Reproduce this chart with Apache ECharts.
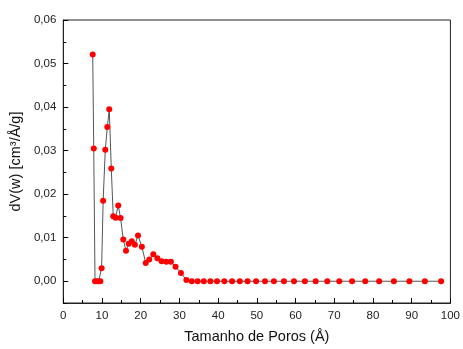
<!DOCTYPE html>
<html>
<head>
<meta charset="utf-8">
<script src="https://cdn.jsdelivr.net/npm/echarts@6/dist/echarts.min.js"></script>
<style>
  html, body { margin: 0; padding: 0; background: #fff; }
  #chart { width: 463px; height: 349px; }
</style>
</head>
<body>
<div id="chart"></div>
<script>
// tamanho de poros (Å)
var poreSize = [7.6, 7.87, 8.2, 8.6, 9.15, 9.57, 9.9, 10.3, 10.85, 11.37, 11.88, 12.4, 12.9, 13.5, 14.2, 14.8,
  15.5, 16.2, 16.9, 17.7, 18.5, 19.3, 20.3, 21.3, 22.2, 23.25, 24.3, 25.4, 26.6, 27.8, 29.0, 30.4, 31.8,
  33.2, 34.7, 36.3, 38.0, 39.7, 41.6, 43.6, 45.6, 47.6, 49.8, 52.1, 54.4, 57.0, 59.6, 62.4, 65.2, 68.2,
  71.3, 74.6, 78.0, 81.6, 85.4, 89.4, 93.4, 97.6];
// dV(w)
var dV = [0.0521, 0.0305, 0, 0, 0, 0, 0.0030, 0.0185, 0.0302, 0.0354, 0.0395, 0.0259, 0.0149, 0.0146, 0.0174, 0.0145,
  0.0096, 0.0070, 0.0086, 0.0092, 0.0084, 0.0105, 0.0079, 0.0042, 0.0050, 0.0062, 0.0053, 0.0046, 0.0045, 0.0045, 0.0033, 0.0019, 0.0003,
  0, 0, 0, 0, 0, 0, 0, 0, 0, 0, 0, 0, 0, 0, 0, 0, 0,
  0, 0, 0, 0, 0, 0, 0, 0];
var yMajor = [0, 0.01, 0.02, 0.03, 0.04, 0.05, 0.06];
var yMinor = [-0.005, 0.005, 0.015, 0.025, 0.035, 0.045, 0.055];

var points = poreSize.map(function (x, i) { return [x, dV[i]]; });
var font = 'Liberation Sans';

var chart = echarts.init(document.getElementById('chart'));
chart.setOption({
  animation: false,
  grid: { left: 63, right: 10, top: 20, bottom: 43, show: true, borderColor: '#222', borderWidth: 1 },
  xAxis: {
    type: 'value', min: 0, max: 100, interval: 10,
    name: 'Tamanho de Poros (Å)', nameLocation: 'middle', nameGap: 26,
    nameTextStyle: { fontFamily: font, fontSize: 14.5, color: '#111' },
    axisLine: { onZero: false, lineStyle: { color: '#222', width: 1 } },
    axisTick: { show: true, inside: true, length: 5, lineStyle: { color: '#000', width: 1 } },
    minorTick: { show: true, splitNumber: 2, length: 3, lineStyle: { color: '#000', width: 1 } },
    axisLabel: { fontFamily: font, fontSize: 11.5, color: '#222', margin: 7 },
    splitLine: { show: false }
  },
  yAxis: [{
    type: 'value', min: -0.005, max: 0.06,
    name: 'dV(w) [cm³/Å/g]', nameLocation: 'middle', nameGap: 38,
    nameTextStyle: { fontFamily: font, fontSize: 14.5, color: '#111' },
    axisLine: { show: true, onZero: false, lineStyle: { color: '#222', width: 1 } },
    axisTick: { show: true, inside: true, length: 5, customValues: yMajor, lineStyle: { color: '#000', width: 1 } },
    axisLabel: {
      fontFamily: font, fontSize: 11.5, color: '#222', margin: 7, customValues: yMajor,
      formatter: function (v) { return v.toFixed(2).replace('.', ','); }
    },
    splitLine: { show: false }
  }, {
    type: 'value', min: -0.005, max: 0.06, position: 'left',
    axisLine: { show: false, onZero: false },
    axisTick: { show: true, inside: true, length: 3, customValues: yMinor, lineStyle: { color: '#000', width: 1 } },
    axisLabel: { show: false },
    splitLine: { show: false }
  }],
  series: [{
    type: 'line',
    data: points,
    symbol: 'circle',
    symbolSize: 6,
    lineStyle: { color: '#555', width: 1 },
    itemStyle: { color: '#ff0000' }
  }]
});
</script>
</body>
</html>
